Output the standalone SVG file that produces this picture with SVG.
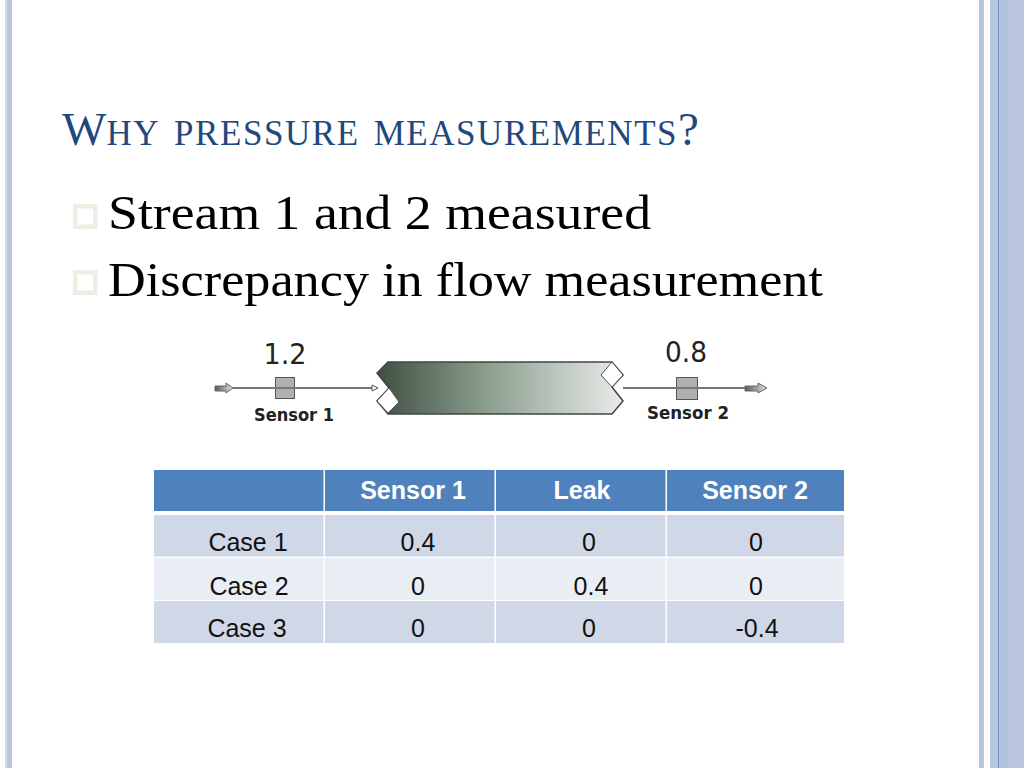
<svg xmlns="http://www.w3.org/2000/svg" width="1024" height="768" viewBox="0 0 1024 768">
<style>
.body{font-family:"Liberation Serif",serif;font-size:48px;fill:#000}
.cell{font-family:"Liberation Sans",Arial,sans-serif;font-size:25px;fill:#111;text-anchor:middle}
.head{font-family:"Liberation Sans",Arial,sans-serif;font-size:25px;font-weight:bold;fill:#fff;text-anchor:middle}
.val{font-family:"DejaVu Sans",sans-serif;font-size:29px;fill:#222;text-anchor:middle}
.sens{font-family:"DejaVu Sans",sans-serif;font-size:17px;font-weight:bold;fill:#222;text-anchor:middle}
.line{stroke:#777;stroke-width:2;fill:none}
.box{fill:#b0b0b0;stroke:#555;stroke-width:1}
.bul{fill:none;stroke:#eeeee4;stroke-width:4.500}
.r1{fill:#d0d8e8}.r2{fill:#e9edf4}.rh{fill:#4f81bd}
</style>
<defs>
<linearGradient id="pipe" x1="0" x2="1" y1="0" y2="0"><stop offset="0" stop-color="#3f4f42"/><stop offset="0.45" stop-color="#8c9f8f"/><stop offset="1" stop-color="#e8ece9"/></linearGradient>
<linearGradient id="arr" x1="0" x2="1" y1="0" y2="0"><stop offset="0" stop-color="#4f5f52"/><stop offset="1" stop-color="#dfe5df"/></linearGradient>
</defs>
<rect width="1024" height="768" fill="#fff"/>
<g id="frame">
<rect x="5" y="0" width="2" height="768" fill="#d4dcea"/>
<rect x="7" y="0" width="5" height="768" fill="#b8c7e0"/>
<rect x="979" y="0" width="5" height="768" fill="#b8c4da"/>
<rect x="990" y="0" width="8" height="768" fill="#b8c7e0"/>
<rect x="998" y="0" width="1.500" height="768" fill="#6f8fc0"/>
<rect x="999.500" y="0" width="8.500" height="768" fill="#b4c3dc"/>
<rect x="1008" y="0" width="16" height="768" fill="#b9c6de"/>
</g>
<text id="title" x="62" y="145" font-family="'Liberation Serif',serif" fill="#1f497d"><tspan font-size="47">W</tspan><tspan font-size="50" font-variant="small-caps" letter-spacing="1.55">hy pressure measurements</tspan><tspan font-size="47">?</tspan></text>
<g id="bullets">
<rect class="bul" x="75.250" y="206.250" width="20" height="20.500"/>
<rect class="bul" x="75.250" y="272.250" width="20" height="20.500"/>
<text class="body" x="108" y="229" textLength="543" lengthAdjust="spacingAndGlyphs">Stream 1 and 2 measured</text>
<text class="body" x="108" y="296" textLength="715" lengthAdjust="spacingAndGlyphs">Discrepancy in flow measurement</text>
</g>
<g id="connectors">
<path class="line" d="M233 388H374"/>
<path d="M372 385L378 388L372 391Z" fill="#fff" stroke="#555"/>
<path class="line" d="M623 388H746"/>
</g>
<g id="inlet-arrow"><path d="M215 386H226V383L233 388L226 393V391H215Z" fill="url(#arr)" stroke="#666"/></g>
<g id="outlet-arrow"><path d="M745 386H758V383L767 388L758 393V391H745Z" fill="url(#arr)" stroke="#666"/></g>
<g id="sensor-1">
<text class="val" x="285" y="364" textLength="43" lengthAdjust="spacingAndGlyphs">1.2</text>
<rect class="box" x="275.500" y="377.500" width="19" height="21"/>
<path class="line" stroke-width="1" d="M275 388H295"/>
<text class="sens" x="294" y="421" textLength="80" lengthAdjust="spacingAndGlyphs">Sensor 1</text>
</g>
<g id="sensor-2">
<text class="val" x="686" y="362" textLength="42" lengthAdjust="spacingAndGlyphs">0.8</text>
<rect class="box" x="676.500" y="377.500" width="21" height="22"/>
<path class="line" stroke-width="1" d="M676 388H698"/>
<text class="sens" x="688" y="419" textLength="82" lengthAdjust="spacingAndGlyphs">Sensor 2</text>
</g>
<g id="pipe-unit">
<path d="M388 362H612L623 375L612 387L623 401L612 414H388L377 401L389 388L377 373Z" fill="url(#pipe)" stroke="#444" stroke-width="1.500"/>
<path d="M389 388L399 402L388 413L377 401Z" fill="#fff" stroke="#555"/>
<path d="M612 362L623 375L612 387L601 375Z" fill="#fff" stroke="#555"/>
</g>
<g id="table">
<rect class="rh" x="154" y="470" width="169.500" height="41"/>
<rect class="rh" x="325" y="470" width="169.500" height="41"/>
<rect class="rh" x="496" y="470" width="169.500" height="41"/>
<rect class="rh" x="667" y="470" width="177" height="41"/>
<rect class="r1" x="154" y="515" width="169.500" height="41.500"/>
<rect class="r1" x="325" y="515" width="169.500" height="41.500"/>
<rect class="r1" x="496" y="515" width="169.500" height="41.500"/>
<rect class="r1" x="667" y="515" width="177" height="41.500"/>
<rect class="r2" x="154" y="558" width="169.500" height="42"/>
<rect class="r2" x="325" y="558" width="169.500" height="42"/>
<rect class="r2" x="496" y="558" width="169.500" height="42"/>
<rect class="r2" x="667" y="558" width="177" height="42"/>
<rect class="r1" x="154" y="601" width="169.500" height="42"/>
<rect class="r1" x="325" y="601" width="169.500" height="42"/>
<rect class="r1" x="496" y="601" width="169.500" height="42"/>
<rect class="r1" x="667" y="601" width="177" height="42"/>
<text class="head" x="413" y="499">Sensor 1</text>
<text class="head" x="582" y="499">Leak</text>
<text class="head" x="755" y="499">Sensor 2</text>
<text class="cell" x="248" y="551">Case 1</text>
<text class="cell" x="418" y="551">0.4</text>
<text class="cell" x="589" y="551">0</text>
<text class="cell" x="756" y="551">0</text>
<text class="cell" x="249" y="595">Case 2</text>
<text class="cell" x="418" y="595">0</text>
<text class="cell" x="591" y="595">0.4</text>
<text class="cell" x="756" y="595">0</text>
<text class="cell" x="247" y="637">Case 3</text>
<text class="cell" x="418" y="637">0</text>
<text class="cell" x="589" y="637">0</text>
<text class="cell" x="757" y="637">-0.4</text>
</g>
</svg>
